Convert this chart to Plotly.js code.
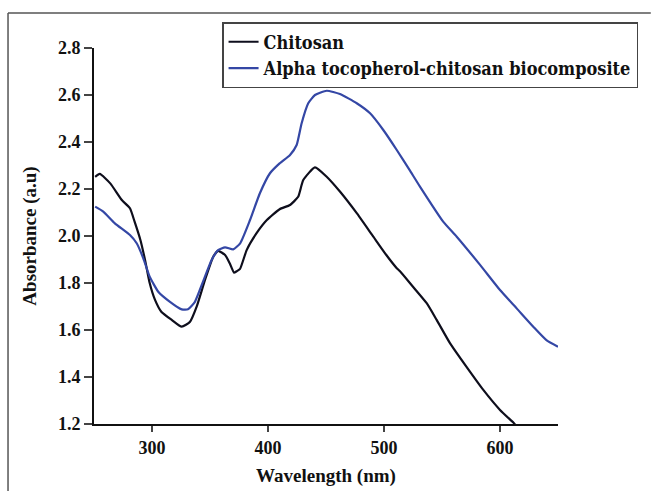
<!DOCTYPE html>
<html>
<head>
<meta charset="utf-8">
<script src="https://cdn.plot.ly/plotly-3.0.1.min.js"></script>
<style>html,body{margin:0;padding:0;background:#fff;}#chart{width:651px;height:491px;}</style>
</head>
<body>
<div id="chart"></div>
<script>
// Chitosan
var chitosanWl = [251,255,264,274,281,285,290,294,298,302.6,308,317,325.6,332.8,338.5,345.7,352.8,357,363,367,370.7,373,375.9,381.6,390,399,410,419,426,430.4,440.5,450.6,462,476.5,490.8,502,511,513.8,525,536.8,545.4,557,571,585.6,600,611.5,613];
var chitosanAbs = [2.252,2.264,2.224,2.153,2.118,2.061,1.983,1.898,1.80,1.728,1.678,1.643,1.614,1.635,1.699,1.813,1.912,1.937,1.919,1.884,1.844,1.850,1.860,1.94,2.011,2.068,2.114,2.132,2.167,2.238,2.292,2.252,2.189,2.097,1.997,1.919,1.863,1.850,1.784,1.714,1.643,1.543,1.444,1.345,1.26,1.206,1.198];
// Alpha tocopherol-chitosan biocomposite
var compositeWl = [251,258,268,281,286.8,292.5,298,305.4,315.5,325.6,331,337,344,351.4,357,363,370,376,384.5,393,401.7,410,419,424.7,429,434.7,440.5,450.6,462,476.5,488,499.4,511,522,531,551,562.7,582.8,600,614.4,628.7,640,650];
var compositeAbs = [2.125,2.104,2.054,2.004,1.969,1.905,1.827,1.763,1.720,1.688,1.688,1.720,1.806,1.898,1.940,1.952,1.943,1.969,2.068,2.182,2.267,2.309,2.345,2.387,2.48,2.565,2.60,2.618,2.604,2.565,2.522,2.451,2.366,2.281,2.21,2.061,1.997,1.877,1.77,1.692,1.614,1.557,1.529];
var seriesNames = ['Chitosan','Alpha tocopherol-chitosan biocomposite'];
var xTickVals = [300,400,500,600];
var yTickVals = [1.2,1.4,1.6,1.8,2.0,2.2,2.4,2.6,2.8];

var fontFam = '"Liberation Serif", "Times New Roman", serif';
var legFam = '"DejaVu Serif Condensed", "DejaVu Serif", serif';
var traces = [
  {x: chitosanWl, y: chitosanAbs, name: seriesNames[0], mode: 'lines', line: {color: '#0e0e1c', width: 2.2, shape: 'spline', smoothing: 0.5}},
  {x: compositeWl, y: compositeAbs, name: seriesNames[1], mode: 'lines', line: {color: '#3447a5', width: 2.2, shape: 'spline', smoothing: 0.5}}
];
var layout = {
  width: 651, height: 491,
  margin: {l: 94, r: 93, t: 48, b: 67},
  paper_bgcolor: '#fff', plot_bgcolor: '#fff',
  font: {family: fontFam, color: '#111', size: 17},
  showlegend: true,
  legend: {
    x: 0.276, y: 1.069, xanchor: 'left', yanchor: 'top',
    bordercolor: '#444', borderwidth: 1.5, bgcolor: '#fff',
    font: {family: legFam, size: 18, color: '#111', weight: 'bold'},
    tracegroupgap: 0, itemwidth: 30
  },
  xaxis: {
    range: [250, 650], tickvals: xTickVals, ticks: 'outside', ticklen: 6, tickwidth: 1.5,
    showline: true, linecolor: '#111', linewidth: 2, showgrid: false, zeroline: false,
    tickfont: {family: fontFam, size: 18, weight: 'bold', color: '#111'},
    title: {text: 'Wavelength (nm)', font: {family: fontFam, size: 19, weight: 'bold', color: '#111'}, standoff: 12}
  },
  yaxis: {
    range: [1.2, 2.8], tickvals: yTickVals, tickformat: '.1f', ticks: 'outside', ticklen: 8, tickwidth: 1.5,
    showline: true, linecolor: '#111', linewidth: 2, showgrid: false, zeroline: false,
    tickfont: {family: fontFam, size: 18, weight: 'bold', color: '#111'},
    title: {text: 'Absorbance (a.u)', font: {family: fontFam, size: 19, weight: 'bold', color: '#111'}, standoff: 16}
  },
  shapes: [
    {type: 'line', xref: 'paper', yref: 'paper', x0: -0.1853, x1: 1.2, y0: 1.093, y1: 1.093, line: {color: '#555', width: 1.5}},
    {type: 'line', xref: 'paper', yref: 'paper', x0: -0.1853, x1: -0.1853, y0: 1.093, y1: -0.2, line: {color: '#555', width: 1.5}}
  ]
};
Plotly.newPlot('chart', traces, layout, {displayModeBar: false, staticPlot: true});
</script>
</body>
</html>
